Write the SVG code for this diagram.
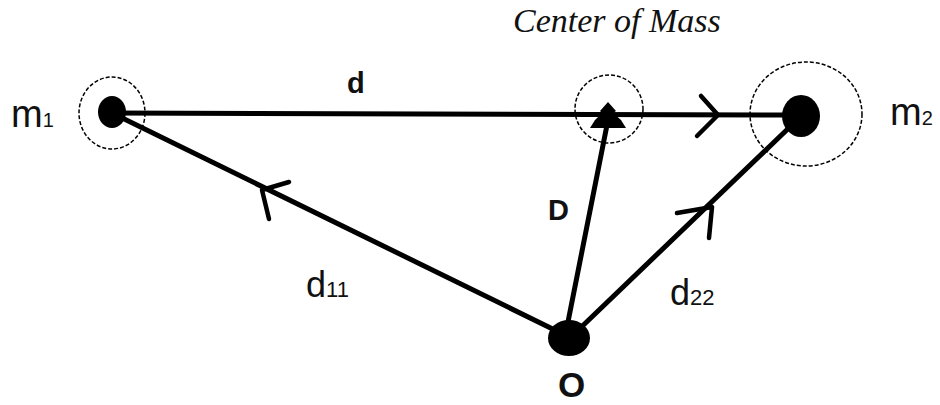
<svg xmlns="http://www.w3.org/2000/svg" width="940" height="405" viewBox="0 0 940 405">
<style>
.ring{fill:none;stroke:#000;stroke-width:1.5;stroke-dasharray:4 2}
.dot{fill:#000}
.vec{fill:none;stroke:#000;stroke-width:5;stroke-linecap:round}
.chev{fill:none;stroke:#000;stroke-width:4.5;stroke-linecap:round;stroke-linejoin:round}
.lbl{font-family:"Liberation Sans",Arial,sans-serif;fill:#111}
.bold{font-weight:bold}
.title{font-family:"Liberation Serif","Times New Roman",serif;font-style:italic;font-size:34px;fill:#111}
</style>
<rect width="940" height="405" fill="#fff"/>
<g id="connectors">
<line class="vec" x1="112" y1="113" x2="802" y2="115"/>
<polyline class="chev" points="701,96 718,115 697,136"/>
<line class="vec" x1="569" y1="337" x2="112" y2="113"/>
<polyline class="chev" points="289,182 262,190 269,219"/>
<line class="vec" x1="566" y1="332" x2="607" y2="125"/>
<polygon fill="#000" points="608,102 616,111 613,113 621,120 626,128 590,128 595,120 602,113 600,111"/>
<line class="vec" x1="572" y1="336" x2="795" y2="122"/>
<polyline class="chev" points="677,213 712,207 709,238"/>
</g>
<g id="m1">
<ellipse class="ring" cx="112" cy="113" rx="33" ry="36"/>
<ellipse class="dot" cx="112" cy="112" rx="14" ry="16"/>
<text class="lbl" x="11" y="127" font-size="38">m<tspan font-size="20">1</tspan></text>
</g>
<g id="com">
<ellipse class="ring" cx="609" cy="109" rx="34" ry="34"/>
<text class="title" x="513" y="32">Center of Mass</text>
</g>
<g id="m2">
<ellipse class="ring" cx="806" cy="114" rx="56" ry="52"/>
<ellipse class="dot" cx="801" cy="116" rx="19" ry="21"/>
<text class="lbl" x="890" y="125" font-size="38">m<tspan font-size="20">2</tspan></text>
</g>
<g id="O">
<ellipse class="dot" cx="569" cy="338" rx="21" ry="18"/>
<text class="lbl bold" x="558" y="397" font-size="35">O</text>
</g>
<g id="labels">
<text class="lbl bold" x="347" y="93" font-size="29">d</text>
<text class="lbl bold" x="548" y="220" font-size="29">D</text>
<text class="lbl" x="306" y="297" font-size="36">d<tspan font-size="22">11</tspan></text>
<text class="lbl" x="670" y="305" font-size="36">d<tspan font-size="22">22</tspan></text>
</g>
</svg>
